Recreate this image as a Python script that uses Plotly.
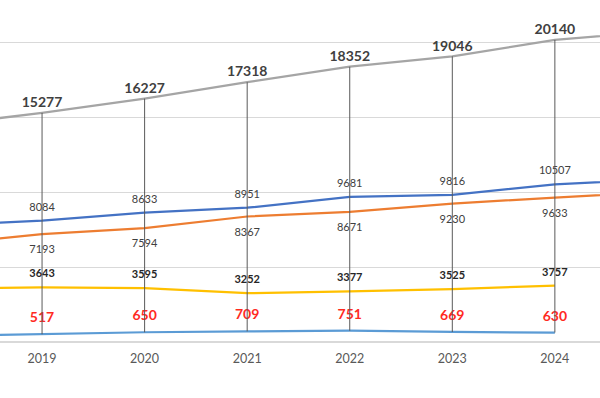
import plotly.graph_objects as go

years = [2018, 2019, 2020, 2021, 2022, 2023, 2024, 2025]
tick_years = [2019, 2020, 2021, 2022, 2023, 2024]

total = [14440, 15277, 16227, 17318, 18352, 19046, 20140, 20730]
series_blue = [7760, 8084, 8633, 8951, 9681, 9816, 10507, 10870]
series_orange = [6510, 7193, 7594, 8367, 8671, 9230, 9633, 10010]
series_yellow = [3550, 3643, 3595, 3252, 3377, 3525, 3757, None]
series_lblue = [400, 517, 650, 709, 751, 669, 630, None]


def lbl(vals):
    return ["" if (y not in tick_years or v is None) else str(v) for y, v in zip(years, vals)]


fig = go.Figure()
FONT = "Lato, 'Liberation Sans', sans-serif"

def add(vals, color, tpos, tsize, tcolor, bold, msize):
    fig.add_trace(go.Scatter(
        x=years, y=vals, mode="lines+markers+text",
        line=dict(color=color, width=2.25),
        marker=dict(size=msize, color="rgba(0,0,0,0)"),
        text=[("<b>%s</b>" % t if (bold and t) else t) for t in lbl(vals)],
        textposition=tpos,
        textfont=dict(size=tsize, color=tcolor, family=FONT),
        hoverinfo="skip", showlegend=False, connectgaps=False,
    ))

add(series_lblue, "#5B9BD5", "top center", 14, "#FF2A1F", True, 12)
add(series_yellow, "#FFC000", "top center", 11, "#262626", True, 10)
add(series_orange, "#ED7D31", "bottom center", 11, "#404040", False, 16)
add(series_blue, "#4472C4", "top center", 11, "#404040", False, 10)
add(total, "#A5A5A5", "top center", 14, "#404040", True, 2)

# high-low lines
hx, hy = [], []
all_series = [total, series_blue, series_orange, series_yellow, series_lblue]
for i, yr in enumerate(years):
    vals = [s[i] for s in all_series if s[i] is not None]
    hx += [yr, yr, None]
    hy += [max(vals), min(vals), None]
fig.add_trace(go.Scatter(x=hx, y=hy, mode="lines", line=dict(color="#595959", width=1),
                         hoverinfo="skip", showlegend=False))

fig.update_layout(
    width=600, height=398,
    margin=dict(l=0, r=0, t=0, b=56),
    paper_bgcolor="white", plot_bgcolor="white",
    xaxis=dict(range=[2018.59, 2024.44], tickmode="array", tickvals=tick_years,
               ticktext=[str(y) for y in tick_years], showgrid=False, zeroline=False,
               ticks="", ticklabelstandoff=7,
               tickfont=dict(size=12.5, color="#595959", family=FONT), showline=False),
    yaxis=dict(range=[0, 22800], tickvals=[0, 5000, 10000, 15000, 20000], showticklabels=False,
               gridcolor="#D9D9D9", gridwidth=1, zeroline=True, zerolinecolor="#D9D9D9",
               zerolinewidth=1.5, showline=False),
)

fig.write_html("out.html", config={"displayModeBar": False},
               post_script="document.body.style.margin='0';")
